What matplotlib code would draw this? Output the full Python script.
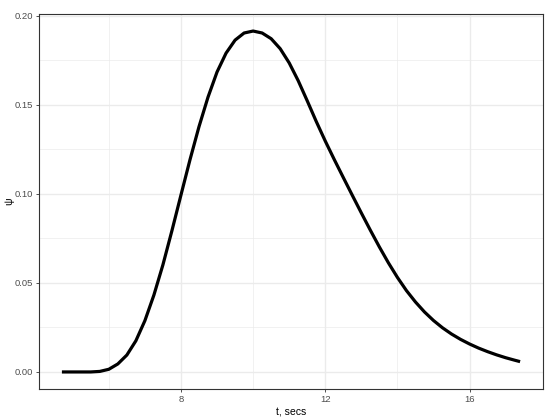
import numpy as np
import matplotlib.pyplot as plt

plt.rcParams['font.family'] = ['Liberation Sans', 'DejaVu Sans']

# values
t = [4.7, 5.0, 5.5, 5.75, 6.0, 6.25, 6.5, 6.75, 7.0, 7.25, 7.5, 7.75,
     8.0, 8.25, 8.5, 8.75, 9.0, 9.25, 9.5, 9.75, 10.0, 10.25, 10.5, 10.75,
     11.0, 11.25, 11.5, 11.75, 12.0, 12.25, 12.5, 12.75, 13.0, 13.25, 13.5,
     13.75, 14.0, 14.25, 14.5, 14.75, 15.0, 15.25, 15.5, 15.75, 16.0, 16.25,
     16.5, 16.75, 17.0, 17.25, 17.4]
psi = [0.0, 0.0, 0.0, 0.0003, 0.0015, 0.0045, 0.0095, 0.0175, 0.0288,
       0.0432, 0.0602, 0.0794, 0.0994, 0.1192, 0.1378, 0.1544, 0.1685,
       0.1791, 0.1864, 0.1904, 0.1915, 0.1904, 0.1872, 0.1816, 0.1736,
       0.1636, 0.1523, 0.1407, 0.1297, 0.1193, 0.1092, 0.0992, 0.0893,
       0.0796, 0.0702, 0.0613, 0.0531, 0.0457, 0.0393, 0.0337, 0.0289,
       0.0248, 0.0213, 0.0183, 0.0157, 0.0134, 0.0114, 0.0096, 0.0080,
       0.0066, 0.0058]

x_major = [8, 12, 16]
x_minor = [6, 10, 14]
y_major = [0.00, 0.05, 0.10, 0.15, 0.20]
y_minor = [0.025, 0.075, 0.125, 0.175]

fig = plt.figure(figsize=(5.5, 4.19), dpi=100)
ax = fig.add_axes([39 / 550, 1 - 389 / 419, 504 / 550, 375 / 419])

for v in x_minor:
    ax.axvline(v, color='#EBEBEB', lw=0.5, zorder=0)
for v in y_minor:
    ax.axhline(v, color='#EBEBEB', lw=0.5, zorder=0)
for v in x_major:
    ax.axvline(v, color='#EBEBEB', lw=1.0, zorder=0)
for v in y_major:
    ax.axhline(v, color='#EBEBEB', lw=1.0, zorder=0)

ax.plot(t, psi, color='black', lw=2.3, solid_joinstyle='round',
        solid_capstyle='butt')

xr = max(t) - min(t)
ax.set_xlim(min(t) - 0.05 * xr, max(t) + 0.05 * xr)
yr = max(psi) - min(psi)
ax.set_ylim(min(psi) - 0.05 * yr, max(psi) + 0.05 * yr)

ax.set_xticks(x_major)
ax.set_yticks(y_major)
ax.set_yticklabels([f'{v:.2f}' for v in y_major])
ax.tick_params(colors='#333333', labelcolor='#4D4D4D', labelsize=6.8,
               length=2.5, width=0.6, pad=2)
for s in ax.spines.values():
    s.set_color('#333333')
    s.set_linewidth(0.8)

ax.set_xlabel('t, secs', fontsize=7.6, color='black', labelpad=2)
ax.set_ylabel('ψ', fontsize=7.6, color='black', labelpad=0)

fig.savefig('out.png', dpi=100)
